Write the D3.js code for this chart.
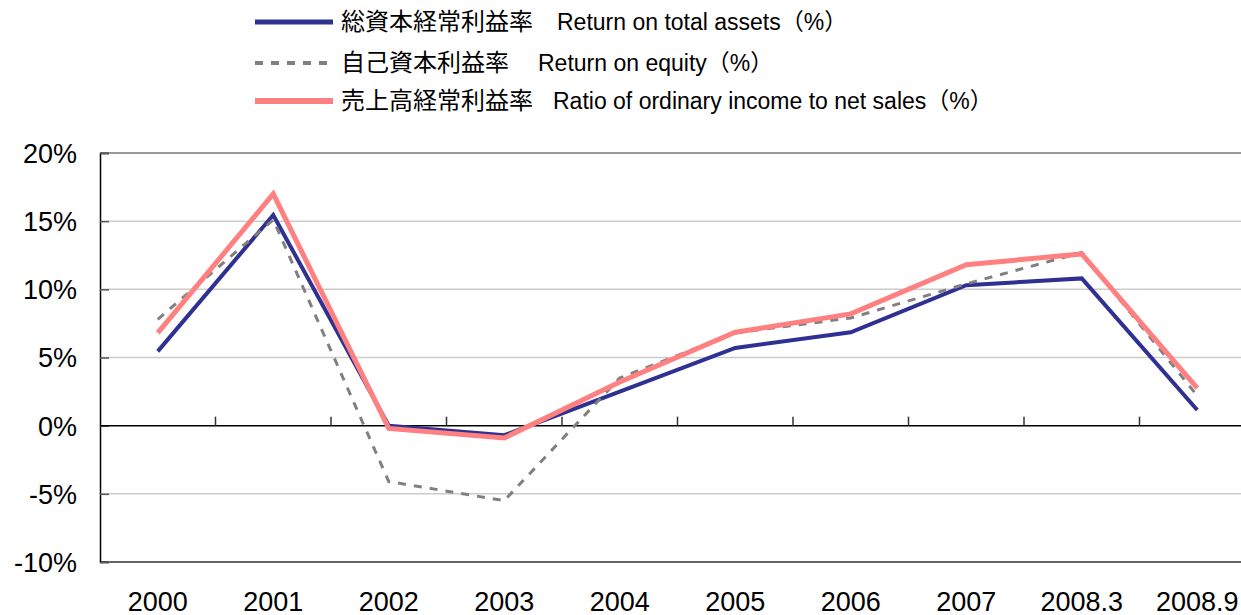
<!DOCTYPE html>
<meta charset="utf-8">
<html>
<style>
  body { margin: 0; background: #fff; }
  svg { display: block; font-family: "Liberation Sans", Arial, "Noto Sans CJK JP", sans-serif; }
  .axis text { font-size: 27px; fill: #000; }
  .legend text { font-size: 23px; fill: #000; white-space: pre; }
</style>
<body>
<svg width="1241" height="615"></svg>
<script src="https://d3js.org/d3.v7.min.js"></script>
<script>

var years = ["2000", "2001", "2002", "2003", "2004", "2005", "2006", "2007", "2008.3", "2008.9"];

// 総資本経常利益率
var roa = [5.45, 15.45, 0.0, -0.7, 2.5, 5.7, 6.85, 10.3, 10.8, 1.15];
// 自己資本利益率
var roe = [7.8, 15.1, -4.1, -5.5, 3.5, 6.8, 7.9, 10.4, 12.7, 2.2];
// 売上高経常利益率
var ros = [6.8, 17.0, -0.2, -0.9, 3.2, 6.85, 8.2, 11.8, 12.6, 2.75];

var yTicks = [-10, -5, 0, 5, 10, 15, 20];

var series = [
  {jp: "総資本経常利益率", en: "Return on total assets（%）", values: roa, color: "#2e3192", width: 4, dash: null},
  {jp: "自己資本利益率", en: "Return on equity（%）", values: roe, color: "#808080", width: 3, dash: "8,8"},
  {jp: "売上高経常利益率", en: "Ratio of ordinary income to net sales（%）", values: ros, color: "#ff8080", width: 5, dash: null}
];

function draw() {
  var svg = d3.select("svg");
  var plotLeft = 100, plotRight = 1255, plotTop = 153, plotBottom = 562;

  var x = d3.scaleBand().domain(years).range([plotLeft, plotRight]).padding(0);
  var y = d3.scaleLinear().domain([-10, 20]).range([plotBottom, plotTop]);

  // gridlines
  svg.append("g")
    .selectAll("line")
    .data(yTicks.filter(function(d) { return d !== 0 && d !== 20 && d !== -10; }))
    .enter().append("line")
      .attr("x1", plotLeft).attr("x2", plotRight)
      .attr("y1", function(d) { return y(d); })
      .attr("y2", function(d) { return y(d); })
      .attr("stroke", "#cccccc")
      .attr("stroke-width", 1.5);

  // top and bottom frame
  svg.append("line").attr("x1", plotLeft).attr("x2", plotRight)
    .attr("y1", y(20)).attr("y2", y(20))
    .attr("stroke", "#777").attr("stroke-width", 1.5);
  svg.append("line").attr("x1", plotLeft).attr("x2", plotRight)
    .attr("y1", y(-10)).attr("y2", y(-10))
    .attr("stroke", "#333").attr("stroke-width", 1.5);

  // y axis (ticks point inward)
  var yAxis = svg.append("g")
    .attr("class", "axis")
    .attr("transform", "translate(" + plotLeft + ",0)")
    .call(d3.axisRight(y).tickValues(yTicks).tickSize(9).tickFormat(function(d) { return d + "%"; }));
  yAxis.select(".domain").attr("stroke", "#000").attr("stroke-width", 1.5);
  yAxis.selectAll(".tick line").attr("stroke", "#555").attr("stroke-width", 1.5);
  yAxis.selectAll(".tick text")
    .attr("x", -23)
    .attr("dy", "0.35em")
    .attr("text-anchor", "end")
    .attr("fill", "#000")
    .style("font-size", "27px")
    .style("font-family", "'Liberation Sans', Arial, sans-serif");

  // x axis on zero line, ticks at band edges pointing up
  var zeroG = svg.append("g").attr("transform", "translate(0," + y(0) + ")");
  zeroG.append("line").attr("x1", plotLeft).attr("x2", plotRight)
    .attr("stroke", "#000").attr("stroke-width", 1.5);
  zeroG.selectAll("line.tk")
    .data(years.slice(1))
    .enter().append("line")
      .attr("class", "tk")
      .attr("x1", function(d) { return x(d); })
      .attr("x2", function(d) { return x(d); })
      .attr("y1", 0).attr("y2", -9)
      .attr("stroke", "#333").attr("stroke-width", 1.5);

  svg.append("g")
    .attr("class", "axis")
    .selectAll("text")
    .data(years)
    .enter().append("text")
      .attr("x", function(d) { return x(d) + x.bandwidth() / 2; })
      .attr("y", 611)
      .attr("text-anchor", "middle")
      .text(function(d) { return d; });

  // lines
  var line = d3.line()
    .x(function(d, i) { return x(years[i]) + x.bandwidth() / 2; })
    .y(function(d) { return y(d); });

  series.forEach(function(s) {
    svg.append("path")
      .datum(s.values)
      .attr("fill", "none")
      .attr("stroke", s.color)
      .attr("stroke-width", s.width)
      .attr("stroke-dasharray", s.dash)
      .attr("stroke-linejoin", "miter")
      .attr("d", line);
  });

  // legend
  var legendY = [22, 63, 101];
  var enX = [557, 538, 553];
  var lg = svg.append("g").attr("class", "legend");
  series.forEach(function(s, i) {
    lg.append("line")
      .attr("x1", 255).attr("x2", 333)
      .attr("y1", legendY[i]).attr("y2", legendY[i])
      .attr("stroke", s.color)
      .attr("stroke-width", s.width + 1)
      .attr("stroke-dasharray", s.dash);
    lg.append("text")
      .attr("x", 341).attr("y", legendY[i] + 8)
      .style("font-family", "'Noto Sans CJK JP', sans-serif")
      .style("font-size", "24px")
      .text(s.jp);
    lg.append("text")
      .attr("x", enX[i]).attr("y", legendY[i] + 8)
      .text(s.en);
  });
}

draw();

</script>
</body>
</html>
